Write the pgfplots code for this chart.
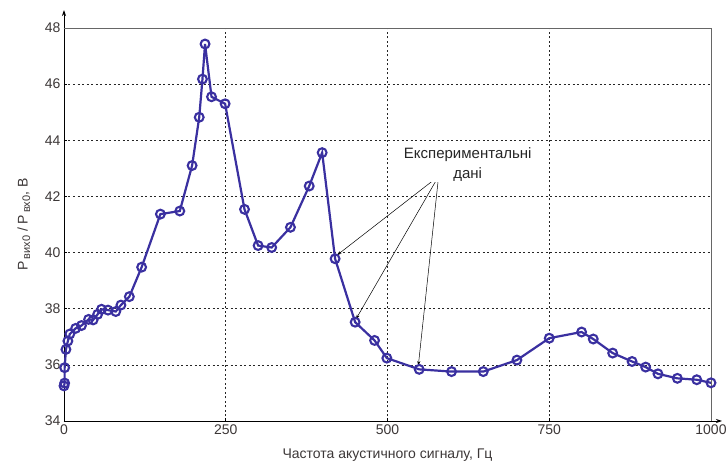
\documentclass[border=0pt]{standalone}
\usepackage{pgfplots}
\pgfplotsset{compat=1.18}
\usepackage{fontspec}
\setmainfont{Liberation Sans}
\usetikzlibrary{arrows.meta}
\definecolor{lineblue}{RGB}{58,48,160}
\definecolor{txt}{RGB}{60,55,55}
\begin{document}
\begin{tikzpicture}
\useasboundingbox (-64pt,-42pt) rectangle (662pt,421pt);
\begin{axis}[
  at={(0,0)}, anchor=south west,
  scale only axis, width=647pt, height=393pt,
  xmin=0, xmax=1000, ymin=34, ymax=48,
  xtick={0,250,500,750,1000},
  ytick={34,36,...,48},
  axis lines=left,
  x axis line style={-{Stealth[length=6pt,width=4pt]}, shorten >=-11pt, line width=0.8pt},
  y axis line style={-{Stealth[length=6pt,width=4pt]}, shorten >=-18pt, line width=0.8pt},
  grid=major,
  major grid style={black!85, line width=0.6pt, dash pattern=on 2pt off 2.5pt},
  major tick length=3pt,
  tick style={black, line width=0.6pt},
  tick align=inside,
  /pgf/number format/assume math mode=true,
  /pgf/number format/1000 sep={},
  ticklabel style={font=\fontsize{14}{16}\selectfont, text=txt},
  label style={font=\fontsize{14}{16}\selectfont, text=txt},
  xlabel={Частота акустичного сигналу, Гц},
  xlabel style={at={(axis description cs:0.5,-0.0865)}, anchor=center},
  ylabel={P{\fontsize{11}{12}\selectfont\raisebox{-0.45ex}{\,вих0}} / P{\fontsize{11}{12}\selectfont\raisebox{-0.45ex}{\,вх0}}, В},
  ylabel style={at={(axis description cs:-0.062,0.5)}, anchor=center},
  clip=false,
]
\addplot[color=lineblue, line width=2.2pt, mark=o, mark size=4.4pt, mark options={line width=2.1pt, solid}] coordinates {
(0,35.25) (1,35.35) (1,35.9) (3,36.55) (6,36.85) (9,37.1) (18,37.3) (27,37.4)
(38,37.62) (45,37.6) (52,37.8) (58,37.98) (68,37.95) (80,37.9) (88,38.13) (101,38.43)
(120,39.48) (149,41.37) (179,41.48) (198,43.1) (209,44.82) (214,46.18) (218,47.43)
(228,45.55) (249,45.3) (279,41.54) (300,40.25) (321,40.18) (350,40.9) (379,42.37)
(399,43.56) (419,39.78) (450,37.52) (480,36.87) (499,36.24) (549,35.84) (599,35.76)
(648,35.76) (700,36.17) (750,36.95) (800,37.17) (818,36.92) (848,36.42) (878,36.12)
(899,35.92) (918,35.68) (948,35.52) (978,35.47) (1000,35.36)
};
\draw[black!60, line width=0.6pt] (rel axis cs:0,1) -- (rel axis cs:1,1) -- (rel axis cs:1,0);
\draw[black, line width=0.5pt, -{Stealth[length=5pt,width=3pt]}] (axis cs:579,42.72) -- (axis cs:421.5,39.9);
\draw[black, line width=0.5pt, -{Stealth[length=5pt,width=3pt]}] (axis cs:579,42.72) -- (axis cs:451,37.62);
\draw[black, line width=0.5pt, -{Stealth[length=5pt,width=3pt]}] (axis cs:579,42.72) -- (axis cs:547.6,35.96);
\node[align=center, font=\fontsize{15}{20}\selectfont, text=black!85, fill=white, inner sep=1pt] at (axis cs:624,43.15) {Експериментальні\\дані};
\end{axis}
\end{tikzpicture}
\end{document}
